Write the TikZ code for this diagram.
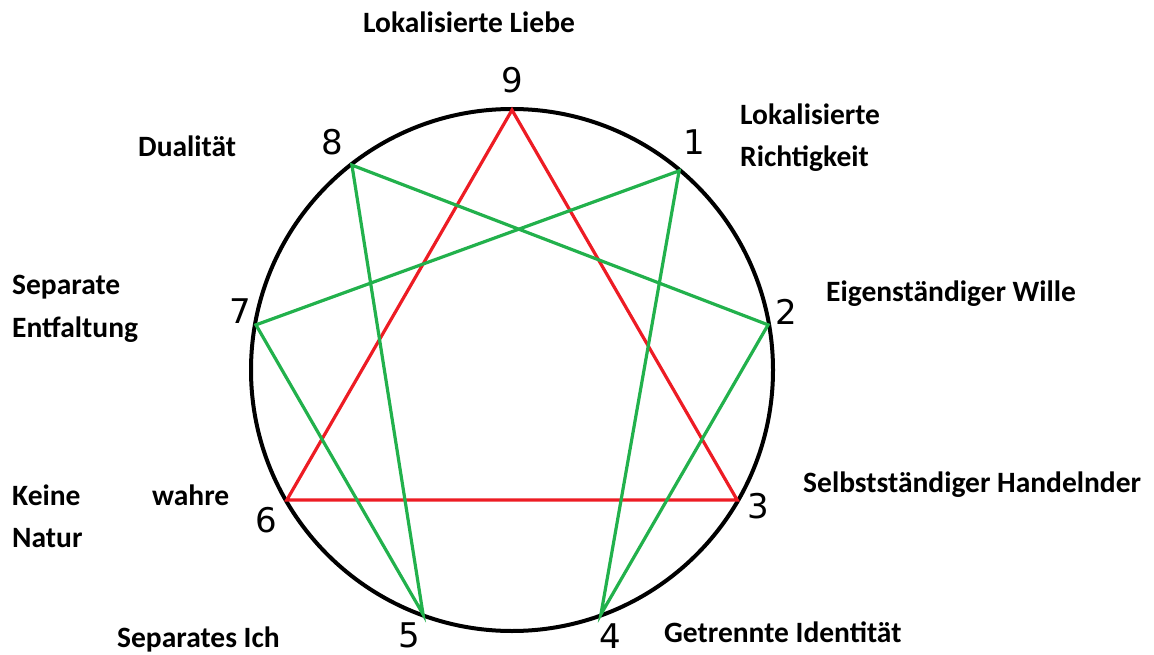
\documentclass[tikz,border=0pt]{standalone}
\usepackage{fontspec}
\usetikzlibrary{calc}
\setmainfont{Carlito}
\newfontfamily\numfont{DejaVu Sans}
\definecolor{ennred}{RGB}{237,28,36}
\definecolor{enngreen}{RGB}{34,177,76}
\begin{document}
\begin{tikzpicture}[x=1pt,y=-1pt,
  lbl/.style={anchor=base west,inner sep=0pt,font=\fontsize{29.5}{34}\selectfont\bfseries},
  num/.style={anchor=base,inner sep=0pt,font=\fontsize{34}{40}\numfont},
  triad/.style={ennred,line width=3.2pt},
  hexad/.style={enngreen,line width=3.2pt},
  ring/.style={black,line width=4pt}]
\useasboundingbox (0,0) rectangle (1154,655);
\coordinate (c) at (512,370);
\foreach \k in {0,...,7} {
  \coordinate (p\k) at ($(c)+({cos(90-40*\k)*260},{-sin(90-40*\k)*260})$);
}
\coordinate (p8) at ($(c)+({cos(128)*260},{-sin(128)*260})$);
\draw[ring] (c) circle[radius=261];
\draw[triad] (p0) -- (p3) -- (p6) -- cycle;
\draw[hexad] (p1) -- (p4) -- (p2) -- (p8) -- (p5) -- (p7) -- cycle;
% numbers
\node[num] (n9) at (512,93) {9};
\node[num] (n1) at (694,155) {1};
\node[num] (n2) at (786,324) {2};
\node[num] (n3) at (758,518) {3};
\node[num] (n4) at (610,648) {4};
\node[num] (n5) at (409,647) {5};
\node[num] (n6) at (266,532) {6};
\node[num] (n7) at (240,323) {7};
\node[num] (n8) at (332,155) {8};
% labels
\node[lbl] (l9) at (363,33) {Lokalisierte Liebe};
\node[lbl] (l1a) at (740,125) {Lokalisierte};
\node[lbl] (l1b) at (740,167) {Richtigkeit};
\node[lbl] (l8) at (138,157) {Dualität};
\node[lbl] (l7a) at (12,294) {Separate};
\node[lbl] (l7b) at (12,337) {Entfaltung};
\node[lbl] (l2) at (826,301) {Eigenständiger Wille};
\node[lbl] (l3) at (803,492) {Selbstständiger Handelnder};
\node[lbl] (l6a) at (12,505) {Keine};
\node[lbl] (l6b) at (152,505) {wahre};
\node[lbl] (l6c) at (12,547) {Natur};
\node[lbl] (l5) at (117,647) {Separates Ich};
\node[lbl] (l4) at (664,642) {Getrennte Identität};
\end{tikzpicture}
\end{document}
